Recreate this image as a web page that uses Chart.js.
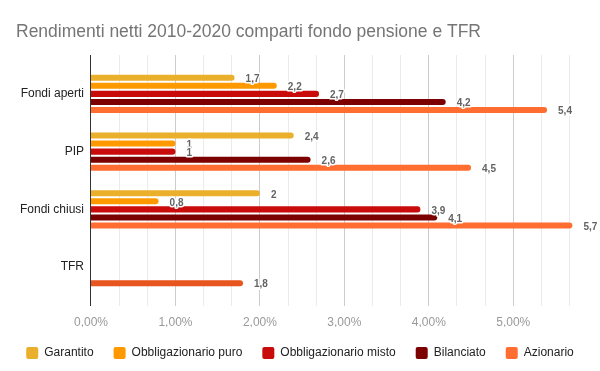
<!DOCTYPE html>
<html>
<head>
<meta charset="utf-8">
<script src="https://cdn.jsdelivr.net/npm/chart.js@4"></script>
<style>
  html, body { margin: 0; padding: 0; background: #fff; }
  #wrap { width: 600px; height: 371px; }
</style>
</head>
<body>
<div id="wrap"><canvas id="chart" width="600" height="371"></canvas></div>
<script>
const chartTitle = 'Rendimenti netti 2010-2020 comparti fondo pensione e TFR';
const categories = ['Fondi aperti', 'PIP', 'Fondi chiusi', 'TFR'];
const seriesNames = ['Garantito', 'Obbligazionario puro', 'Obbligazionario misto', 'Bilanciato', 'Azionario'];
const garantito = [1.7, 2.4, 2, null];
const obbPuro = [2.2, 1, 0.8, null];
const obbMisto = [2.7, 1, 3.9, null];
const bilanciato = [4.2, 2.6, 4.1, null];
const azionario = [5.4, 4.5, 5.7, 1.8];
const xMax = 5.7;
const xTickCount = 17; // grid every 1/3 %, labels on whole percents

const colors = ['#eaaf2b', '#ff9900', '#c90b0b', '#7d0000', '#ff6d31'];
const tfrColor = '#e6561e';
const font = 'Arial, "Liberation Sans", sans-serif';

Chart.defaults.font.family = font;

const sheetPlugin = {
  id: 'sheetLook',
  beforeDatasetsDraw(chart) {
    const { ctx, chartArea, scales: { x } } = chart;
    ctx.save();
    // title, left aligned like the sheet chart
    ctx.font = '17.5px ' + font;
    ctx.fillStyle = '#757575';
    ctx.textAlign = 'left';
    ctx.textBaseline = 'alphabetic';
    ctx.fillText(chartTitle, 16, 36.5);

    // gridlines run a little past the plot
    ctx.lineWidth = 1;
    x.ticks.forEach((t, i) => {
      if (i === 0) return;
      const px = Math.floor(x.getPixelForValue(t.value)) + 0.5;
      ctx.strokeStyle = i % 3 === 0 ? '#cccccc' : '#ebebeb';
      ctx.beginPath();
      ctx.moveTo(px, chartArea.top - 10);
      ctx.lineTo(px, chartArea.bottom + 10);
      ctx.stroke();
    });
    ctx.restore();
  },
  afterDatasetsDraw(chart) {
    const { ctx, chartArea, scales: { x } } = chart;
    const px = Math.floor(x.getPixelForValue(0)) - 0.5;
    ctx.save();
    ctx.strokeStyle = '#333333';
    ctx.lineWidth = 1;
    ctx.beginPath();
    ctx.moveTo(px, chartArea.top - 10);
    ctx.lineTo(px, chartArea.bottom + 10);
    ctx.stroke();

    // value labels
    ctx.font = 'bold 10px ' + font;
    ctx.textAlign = 'left';
    ctx.textBaseline = 'middle';
    ctx.lineJoin = 'round';
    chart.data.datasets.forEach((ds, di) => {
      const meta = chart.getDatasetMeta(di);
      meta.data.forEach((bar, i) => {
        const v = ds.data[i];
        if (v === null || v === undefined) return;
        const txt = String(v).replace('.', ',');
        const lx = bar.x + 11, ly = bar.y + 1.4;
        ctx.strokeStyle = '#ffffff';
        ctx.lineWidth = 3;
        ctx.strokeText(txt, lx, ly);
        ctx.fillStyle = '#636363';
        ctx.fillText(txt, lx, ly);
      });
    });
    ctx.restore();
  }
};

const seriesData = [garantito, obbPuro, obbMisto, bilanciato, azionario];

new Chart(document.getElementById('chart'), {
  type: 'bar',
  data: {
    labels: categories,
    datasets: seriesNames.map((name, k) => ({
      label: name,
      data: seriesData[k],
      backgroundColor: k === 4
        ? (c) => (c.type === 'data' && c.dataIndex === 3 ? tfrColor : colors[4])
        : colors[k],
      borderWidth: 0,
      borderRadius: 3,
      categoryPercentage: 0.693,
      barPercentage: 0.75,
      clip: false
    }))
  },
  options: {
    indexAxis: 'y',
    responsive: false,
    animation: false,
    layout: { padding: { top: 65, left: 0, right: 0, bottom: 2 } },
    scales: {
      x: {
        type: 'linear',
        min: 0,
        max: xMax,
        afterBuildTicks(scale) {
          const ticks = [];
          for (let i = 0; i <= xTickCount; i++) ticks.push({ value: i / 3 });
          scale.ticks = ticks;
        },
        afterFit(scale) { scale.height = 31; },
        grid: { display: false, drawTicks: false },
        border: { display: false },
        ticks: {
          autoSkip: false,
          maxRotation: 0,
          padding: 19,
          color: '#999999',
          font: { size: 12 },
          callback: (v, i) => (i % 3 === 0 ? v.toFixed(2).replace('.', ',') + '%' : '')
        }
      },
      y: {
        afterFit(scale) { scale.width = 91; },
        grid: { display: false, drawTicks: false },
        border: { display: false },
        ticks: { padding: 7, color: '#222222', font: { size: 12 } }
      },
      // empty right margin so the plot ends where the sheet's does
      yRight: {
        type: 'category',
        position: 'right',
        labels: categories,
        afterFit(scale) { scale.width = 27.6; },
        grid: { display: false, drawTicks: false },
        border: { display: false },
        ticks: { display: false }
      }
    },
    plugins: {
      title: { display: false },
      legend: {
        position: 'bottom',
        labels: {
          boxWidth: 12,
          boxHeight: 12,
          padding: 20,
          color: '#222222',
          font: { size: 12 },
          useBorderRadius: true,
          borderRadius: 2
        }
      },
      tooltip: { enabled: false }
    }
  },
  plugins: [sheetPlugin]
});
</script>
</body>
</html>
